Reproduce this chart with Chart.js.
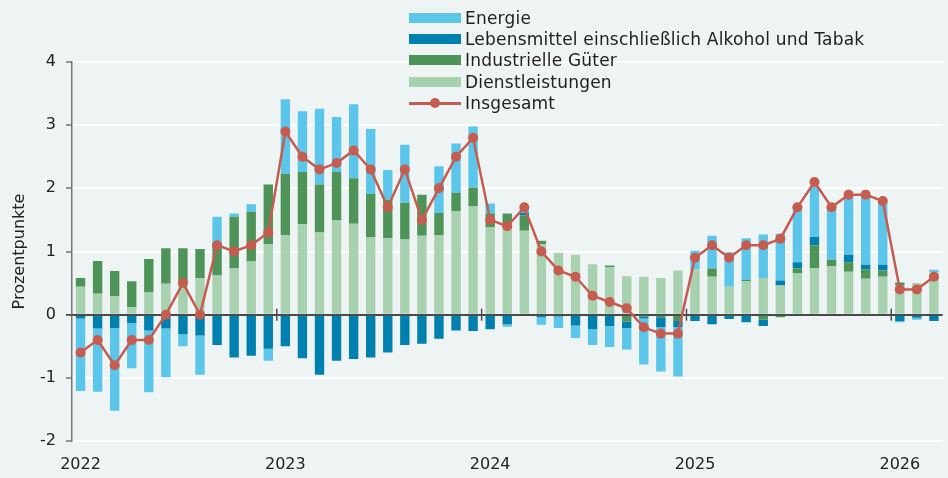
<!DOCTYPE html>
<html>
<head>
<meta charset="utf-8">
<script src="https://cdn.jsdelivr.net/npm/chart.js@4/dist/chart.umd.min.js"></script>
<style>
  html, body { margin: 0; padding: 0; background: #EEF4F4; }
  #wrap { position: relative; width: 948px; height: 478px; background: #EEF4F4; overflow: hidden; }
  #c { position: absolute; left: 0; top: 0; }
  #legend { position: absolute; left: 409px; top: 7px; font-family: "DejaVu Sans", sans-serif; font-size: 17px; letter-spacing: 0.2px; color: #222; }
  .row { display: flex; align-items: center; height: 21.4px; white-space: nowrap; }
  .sw { width: 52px; height: 10px; margin-right: 4px; position: relative; flex: none; }
  .ln { height: 3px; }
  .dot { position: absolute; left: 21px; top: -4px; width: 10px; height: 10px; border-radius: 50%; }
</style>
</head>
<body>
<div id="wrap">
  <canvas id="c" width="948" height="478"></canvas>
  <div id="legend"></div>
</div>
<script>
const categories = [
  "2022-01","2022-02","2022-03","2022-04","2022-05","2022-06","2022-07","2022-08","2022-09","2022-10","2022-11","2022-12",
  "2023-01","2023-02","2023-03","2023-04","2023-05","2023-06","2023-07","2023-08","2023-09","2023-10","2023-11","2023-12",
  "2024-01","2024-02","2024-03","2024-04","2024-05","2024-06","2024-07","2024-08","2024-09","2024-10","2024-11","2024-12",
  "2025-01","2025-02","2025-03","2025-04","2025-05","2025-06","2025-07","2025-08","2025-09","2025-10","2025-11","2025-12",
  "2026-01","2026-02","2026-03"
];

const dienstleistungen = [
  0.44,0.33,0.29,0.12,0.35,0.49,0.50,0.58,0.62,0.73,0.84,1.12,
  1.26,1.43,1.30,1.49,1.44,1.23,1.21,1.19,1.25,1.26,1.64,1.72,
  1.38,1.45,1.33,1.12,0.98,0.95,0.80,0.75,0.61,0.60,0.58,0.70,
  0.72,0.60,0.44,0.53,0.58,0.46,0.65,0.74,0.77,0.68,0.57,0.60,
  0.46,0.50,0.67
];

const industrielleGueter = [
  0.14,0.52,0.40,0.41,0.53,0.56,0.55,0.46,0.50,0.82,0.79,0.94,
  0.97,0.83,0.76,0.77,0.72,0.68,0.61,0.58,0.65,0.35,0.29,0.29,
  0.22,0.15,0.24,0.05,0.00,0.00,0.00,0.03,-0.11,-0.03,-0.04,-0.10,
  0.00,0.13,0.00,0.02,-0.08,-0.04,0.08,0.36,0.10,0.15,0.15,0.10,
  0.05,0.00,0.00
];

const lebensmittel = [
  -0.06,-0.22,-0.21,-0.13,-0.25,-0.22,-0.31,-0.33,-0.48,-0.68,-0.65,-0.54,
  -0.50,-0.69,-0.95,-0.73,-0.70,-0.68,-0.60,-0.48,-0.46,-0.38,-0.25,-0.26,
  -0.23,-0.15,0.04,-0.04,-0.03,-0.17,-0.23,-0.18,-0.10,-0.03,-0.16,-0.10,
  -0.10,-0.15,-0.07,-0.12,-0.10,0.08,0.10,0.13,0.00,0.12,0.07,0.09,
  -0.10,-0.05,-0.10
];

const energie = [
  -1.15,-1.00,-1.31,-0.72,-0.98,-0.77,-0.19,-0.62,0.43,0.05,0.12,-0.19,
  1.18,0.96,1.20,0.87,1.17,1.03,0.47,0.92,0.00,0.74,0.78,0.97,
  0.16,-0.04,0.06,-0.12,-0.18,-0.20,-0.25,-0.33,-0.34,-0.73,-0.70,-0.78,
  0.29,0.52,0.55,0.66,0.69,0.74,0.85,0.79,0.83,0.92,1.08,1.00,
  -0.02,-0.03,0.04
];

const insgesamt = [
  -0.6,-0.4,-0.8,-0.4,-0.4,0.0,0.5,0.0,1.1,1.0,1.1,1.3,
  2.9,2.5,2.3,2.4,2.6,2.3,1.7,2.3,1.5,2.0,2.5,2.8,
  1.5,1.4,1.7,1.0,0.7,0.6,0.3,0.2,0.1,-0.2,-0.3,-0.3,
  0.9,1.1,0.9,1.1,1.1,1.2,1.7,2.1,1.7,1.9,1.9,1.8,
  0.4,0.4,0.6
];

const yTicks = [-2,-1,0,1,2,3,4];

const FONT = "'DejaVu Sans', sans-serif";
const COLORS = {
  energie: '#5BC6EA',
  lebensmittel: '#0080AE',
  industrie: '#4E9459',
  dienst: '#A8D1AF',
  total: '#C65B50'
};

const barCommon = { type: 'bar', order: 1, categoryPercentage: 1.0, barPercentage: 0.55, borderWidth: 0, stack: 'komp' };

const datasets = [
  { type: 'line', label: 'Insgesamt', data: insgesamt, order: 0, borderColor: COLORS.total, backgroundColor: COLORS.total,
    borderWidth: 2.5, pointRadius: 5, pointHoverRadius: 5, pointBackgroundColor: COLORS.total, pointBorderWidth: 0,
    tension: 0, stack: 'total', yAxisID: 'y' },
  Object.assign({ label: 'Dienstleistungen', data: dienstleistungen, backgroundColor: COLORS.dienst }, barCommon),
  Object.assign({ label: 'Industrielle Güter', data: industrielleGueter, backgroundColor: COLORS.industrie }, barCommon),
  Object.assign({ label: 'Lebensmittel einschließlich Alkohol und Tabak', data: lebensmittel, backgroundColor: COLORS.lebensmittel }, barCommon),
  Object.assign({ label: 'Energie', data: energie, backgroundColor: COLORS.energie }, barCommon)
];

const legendOrder = ['Energie', 'Lebensmittel einschließlich Alkohol und Tabak', 'Industrielle Güter', 'Dienstleistungen', 'Insgesamt'];

const zeroLinePlugin = {
  id: 'zeroLine',
  beforeDatasetDraw(chart, args) {
    if (args.meta.type !== 'line') return;
    const { ctx, chartArea, scales: { x, y } } = chart;
    const y0 = y.getPixelForValue(0);
    ctx.save();
    ctx.strokeStyle = '#4a4a4a';
    ctx.lineWidth = 1.5;
    ctx.beginPath();
    ctx.moveTo(chartArea.left - 6, y0);
    ctx.lineTo(chartArea.right, y0);
    ctx.stroke();
    categories.forEach((c, i) => {
      if (i > 0 && c.endsWith('-01')) {
        const xp = (x.getPixelForValue(i - 1) + x.getPixelForValue(i)) / 2;
        ctx.beginPath();
        ctx.moveTo(xp, y0 - 6);
        ctx.lineTo(xp, y0 + 6);
        ctx.stroke();
      }
    });
    ctx.restore();
  }
};

new Chart(document.getElementById('c'), {
  data: { labels: categories, datasets },
  options: {
    responsive: false,
    animation: false,
    devicePixelRatio: 1,
    layout: { padding: { top: 62, right: 0, left: 0, bottom: 0 } },
    plugins: { legend: { display: false }, tooltip: { enabled: false } },
    scales: {
      x: {
        type: 'category',
        stacked: true,
        offset: true,
        grid: { display: false, drawTicks: false },
        border: { display: false },
        ticks: {
          autoSkip: false, maxRotation: 0, minRotation: 0, padding: 14,
          color: '#222', font: { family: FONT, size: 16 },
          callback: function(v, i) { const c = categories[i]; return c.endsWith('-01') ? c.slice(0, 4) : ''; }
        },
        afterFit(scale) { scale.height = 37; }
      },
      y: {
        stacked: true,
        min: yTicks[0], max: yTicks[yTicks.length - 1],
        afterBuildTicks(scale) { scale.ticks = yTicks.map(v => ({ value: v })); },
        ticks: { color: '#222', font: { family: FONT, size: 16 }, padding: 10 },
        grid: {
          color: (ctx) => (ctx.tick && ctx.tick.value === 0) ? '#4a4a4a' : '#ffffff',
          lineWidth: 2, tickColor: '#777', tickLength: 6, tickWidth: 1.5
        },
        border: { display: true, color: '#777', width: 1.5 },
        title: { display: true, text: 'Prozentpunkte', color: '#222', font: { family: FONT, size: 16 }, padding: { top: 10, bottom: 0 } },
        afterFit(scale) { scale.width = 72; }
      }
    }
  },
  plugins: [zeroLinePlugin]
});

// HTML legend built from datasets
const legendEl = document.getElementById('legend');
legendOrder.forEach(name => {
  const ds = datasets.find(d => d.label === name);
  const row = document.createElement('div');
  row.className = 'row';
  const sw = document.createElement('div');
  sw.className = 'sw';
  if (ds.type === 'line') {
    sw.classList.add('ln');
    sw.style.background = ds.borderColor;
    const dot = document.createElement('div');
    dot.className = 'dot';
    dot.style.background = ds.borderColor;
    sw.appendChild(dot);
  } else {
    sw.style.background = ds.backgroundColor;
  }
  const t = document.createElement('span');
  t.textContent = name;
  row.appendChild(sw);
  row.appendChild(t);
  legendEl.appendChild(row);
});
</script>
</body>
</html>
